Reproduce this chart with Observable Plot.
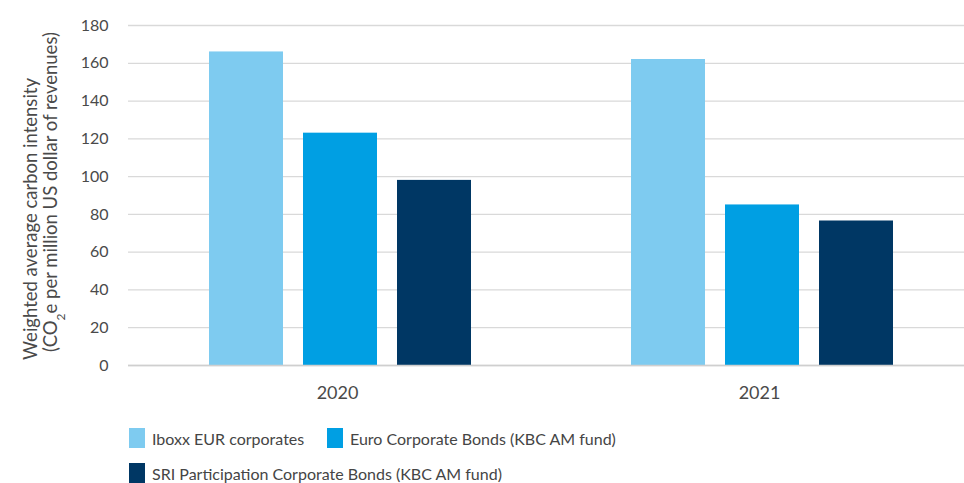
<!DOCTYPE html>
<html>
<head>
<meta charset="utf-8">
<script src="https://cdn.jsdelivr.net/npm/d3@7"></script>
<script src="https://cdn.jsdelivr.net/npm/@observablehq/plot@0.6"></script>
<style>
  html, body { margin: 0; padding: 0; background: #fff; }
  #wrap { position: relative; width: 964px; height: 483px; font-family: Lato, "Open Sans", sans-serif; }
  .leg { position: absolute; display: flex; align-items: center; font-size: 16px; color: #454545; white-space: nowrap; }
  .sw { width: 16px; height: 20px; margin-right: 7px; }
</style>
</head>
<body>
<div id="wrap"></div>
<script>
const years = ["2020", "2021"];
const series = ["Iboxx EUR corporates", "Euro Corporate Bonds (KBC AM fund)", "SRI Participation Corporate Bonds (KBC AM fund)"];
const iboxx = [166, 162];
const euroCorp = [123, 85];
const sriPart = [98, 76.5];
const colors = ["#7ECBF0", "#009FE3", "#003764"];
const yTicks = [0, 20, 40, 60, 80, 100, 120, 140, 160, 180];

const values = [iboxx, euroCorp, sriPart];
const data = [];
series.forEach((s, i) => years.forEach((y, j) => data.push({year: y, series: s, value: values[i][j]})));

const offsets = [-94, 0, 94];
const plot = Plot.plot({
  width: 964,
  height: 418,
  marginLeft: 128,
  marginRight: 0,
  marginTop: 25,
  marginBottom: 53,
  style: {fontFamily: "Lato, 'Open Sans', sans-serif", fontSize: "16px", color: "#4a4a4a", background: "#fff"},
  x: {type: "band", domain: years, range: [129, 973], padding: 0, axis: null},
  y: {domain: [0, 180], ticks: yTicks, label: null, tickSize: 0, tickPadding: 20},
  color: {domain: series, range: colors},
  marks: [
    Plot.ruleY(yTicks, {stroke: "#d9d9d9", strokeWidth: 1.3}),
    ...series.map((s, i) => Plot.barY(data.filter(d => d.series === s), {
      x: "year", y: "value", fill: "series", dx: offsets[i], insetLeft: 174, insetRight: 174
    })),
    Plot.ruleY([0], {stroke: "#cfcfcf", strokeWidth: 1.3}),
    Plot.axisX({tickSize: 0, tickPadding: 21, label: null, fontSize: 18, dx: -3})
  ]
});
document.getElementById("wrap").appendChild(plot);

// y-axis title (two lines, rotated)
const svg = d3.select(plot);
svg.append("text")
  .attr("transform", "translate(37,219) rotate(-90)")
  .attr("text-anchor", "middle")
  .attr("fill", "#4a4a4a").style("font-size", "18.5px")
  .text("Weighted average carbon intensity");
const t2 = svg.append("text")
  .attr("transform", "translate(57,192) rotate(-90)")
  .attr("text-anchor", "middle")
  .attr("fill", "#4a4a4a").style("font-size", "18.5px");
t2.append("tspan").text("(CO");
t2.append("tspan").attr("baseline-shift", "sub").style("font-size", "12px").text("2");
t2.append("tspan").text("e per million US dollar of revenues)");

// legend
const legPos = [[129, 428], [327, 428], [129, 463]];
series.forEach((s, i) => {
  const d = document.createElement("div");
  d.className = "leg";
  d.style.left = legPos[i][0] + "px";
  d.style.top = legPos[i][1] + "px";
  d.innerHTML = `<div class="sw" style="background:${colors[i]}"></div><span>${s}</span>`;
  document.getElementById("wrap").appendChild(d);
});
</script>
</body>
</html>
